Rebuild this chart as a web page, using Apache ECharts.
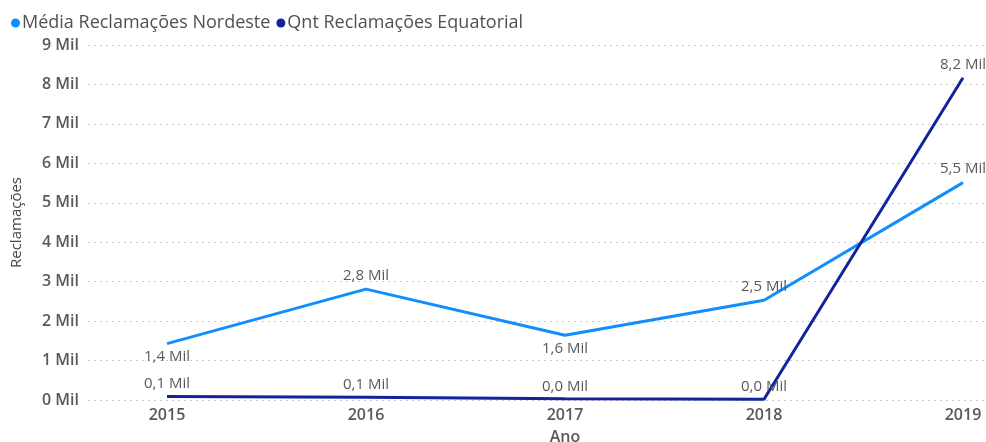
<!DOCTYPE html>
<html>
<head>
<meta charset="utf-8">
<script src="https://cdn.jsdelivr.net/npm/echarts@6/dist/echarts.min.js"></script>
<style>
    html, body { margin: 0; padding: 0; background: #fff; }
    #chart { width: 986px; height: 442px; }
</style>
</head>
<body>
<div id="chart"></div>
<script>
    // dados
    var anos = ['2015', '2016', '2017', '2018', '2019'];
    var mediaNordeste = [1430, 2810, 1640, 2530, 5510];
    var qntEquatorial = [90, 70, 30, 20, 8170];
    var yTicks = [0, 1000, 2000, 3000, 4000, 5000, 6000, 7000, 8000, 9000];

    var fonte = '"Open Sans", "Noto Sans", sans-serif';
    var corTexto = '#595959';

    function milLabel(v) {
        return (v / 1000).toFixed(1).replace('.', ',') + ' Mil';
    }

    // posição dos rótulos da linha Nordeste
    var posNordeste = ['bottom', 'top', 'bottom', 'top', 'top'];

    let myChart = echarts.init(document.getElementById('chart'));
    let option = {
        animation: false,
        textStyle: { fontFamily: fonte },
        legend: {
            left: 6,
            top: 9,
            icon: 'circle',
            itemWidth: 9,
            itemHeight: 9,
            itemGap: 6,
            textStyle: { fontSize: 18, color: '#505050', fontFamily: fonte, padding: [0, 0, 0, -3] },
            data: ['Média Reclamações Nordeste', 'Qnt Reclamações Equatorial']
        },
        grid: [
            { left: 167, right: 23, top: 45, bottom: 42, outerBoundsMode: 'none', containLabel: false },
            { left: 88, right: 0, top: 45, bottom: 42, outerBoundsMode: 'none', containLabel: false }
        ],
        xAxis: [
            {
                gridIndex: 0,
                type: 'category',
                data: anos,
                boundaryGap: false,
                axisLine: { show: false },
                axisTick: { show: false },
                axisLabel: { color: corTexto, fontSize: 16, fontWeight: 600, margin: 7, fontFamily: fonte },
                name: 'Ano',
                nameLocation: 'middle',
                nameGap: 29,
                nameTextStyle: { color: corTexto, fontSize: 16, fontWeight: 600, fontFamily: fonte }
            },
            {
                gridIndex: 1,
                type: 'category',
                data: anos,
                show: false
            }
        ],
        yAxis: [
            {
                gridIndex: 0,
                type: 'value',
                min: 0,
                max: yTicks[yTicks.length - 1],
                interval: 1000,
                show: false
            },
            {
                gridIndex: 1,
                type: 'value',
                min: 0,
                max: yTicks[yTicks.length - 1],
                interval: 1000,
                axisLine: { show: false },
                axisTick: { show: false },
                axisLabel: {
                    color: corTexto,
                    fontSize: 16,
                    fontWeight: 600,
                    margin: 9,
                    fontFamily: fonte,
                    formatter: function (v) { return (v / 1000) + ' Mil'; }
                },
                splitLine: { lineStyle: { color: '#c8c8c8', type: [2, 4], width: 1 } },
                name: 'Reclamações',
                nameLocation: 'middle',
                nameGap: 64,
                nameRotate: 90,
                nameTextStyle: { color: '#444', fontSize: 15, fontFamily: fonte }
            }
        ],
        series: [
            {
                name: 'Média Reclamações Nordeste',
                type: 'line',
                xAxisIndex: 0,
                yAxisIndex: 0,
                symbol: 'circle',
                symbolSize: 0.1,
                color: '#118DFF',
                lineStyle: { width: 3, color: '#118DFF' },
                data: mediaNordeste.map(function (v, i) {
                    return { value: v, label: { position: posNordeste[i] } };
                }),
                label: {
                    show: true,
                    color: corTexto,
                    fontSize: 15,
                    fontFamily: fonte,
                    distance: 6,
                    formatter: function (p) { return milLabel(p.value); }
                }
            },
            {
                name: 'Qnt Reclamações Equatorial',
                type: 'line',
                xAxisIndex: 0,
                yAxisIndex: 0,
                symbol: 'circle',
                symbolSize: 0.1,
                color: '#12239E',
                lineStyle: { width: 3, color: '#12239E' },
                data: qntEquatorial,
                label: {
                    show: true,
                    position: 'top',
                    color: corTexto,
                    fontSize: 15,
                    fontFamily: fonte,
                    distance: 5,
                    formatter: function (p) { return milLabel(p.value); }
                }
            }
        ]
    };
    myChart.setOption(option);
</script>
</body>
</html>
